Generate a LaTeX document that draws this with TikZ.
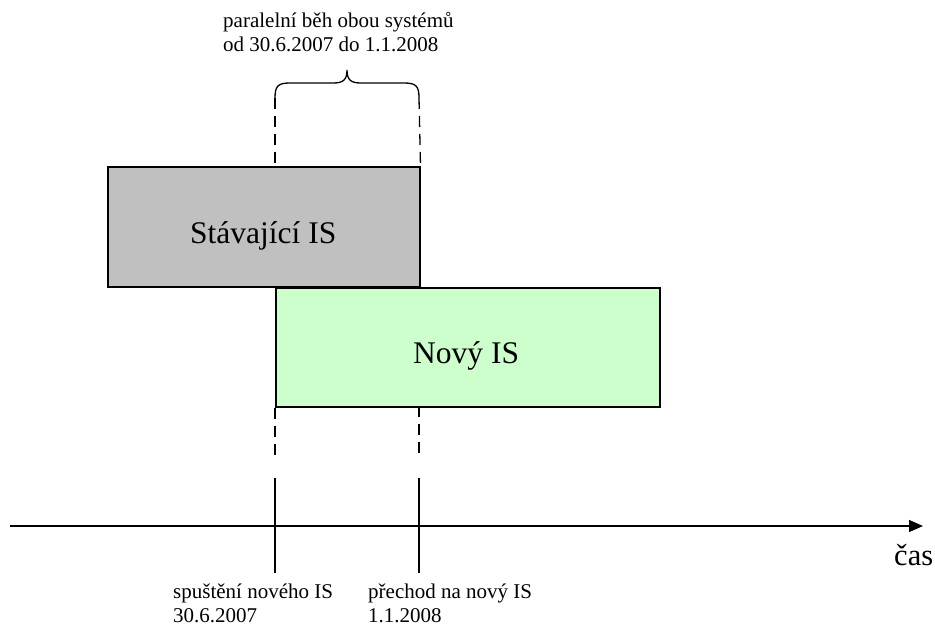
\documentclass[tikz,border=0pt]{standalone}
\usepackage{fontspec}
\setmainfont{Liberation Serif}
\usetikzlibrary{arrows.meta}
\begin{document}
\begin{tikzpicture}[x=1pt,y=-1pt,
  sysbox/.style={draw=black,line width=1.5pt,anchor=north west,inner sep=0pt},
  guide/.style={line width=1.3pt,dash pattern=on 11pt off 7pt},
  tick/.style={line width=1.3pt},
  small/.style={font=\fontsize{21}{24}\selectfont,anchor=base west,inner sep=0pt},
  big/.style={font=\fontsize{31.5}{36}\selectfont,anchor=base west,inner sep=0pt}]
\useasboundingbox (0,0) rectangle (935,630);
% system boxes
\node[sysbox,fill={rgb,255:red,192;green,192;blue,192},minimum width=312pt,minimum height=120pt] (old) at (107,166) {};
\node[sysbox,fill={rgb,255:red,204;green,255;blue,204},minimum width=384pt,minimum height=119pt] (new) at (275,287) {};
\node[big] (oldlbl) at (190,243) {Stávající IS};
\node[big] (newlbl) at (413,363) {Nový IS};
% guide coordinates
\coordinate (b1) at (275,98);
\coordinate (b2) at (419,98);
\coordinate (d1) at (275,455);
\coordinate (d2) at (419,455);
\coordinate (t1a) at (275,478);
\coordinate (t1b) at (275,573);
\coordinate (t2a) at (419,478);
\coordinate (t2b) at (419,573);
% dashed guides
\draw[guide] (b1) -- (275,166);
\draw[guide] (b2) -- (old.north east);
\draw[guide] (new.south west) -- (d1);
\draw[guide] (419,406) -- (d2);
% ticks on the axis
\draw[tick] (t1a) -- (t1b);
\draw[tick] (t2a) -- (t2b);
% time axis
\coordinate (ax0) at (10,526);
\coordinate (ax1) at (923,526);
\draw[line width=1.3pt,-{Triangle[length=14pt,width=12pt]}] (ax0) -- (ax1);
\node[font=\fontsize{30.5}{34}\selectfont,anchor=base west,inner sep=0pt] (cas) at (894,565) {čas};
% brace over the parallel period
\draw[line width=1.3pt] (b1) .. controls (275,86) and (278,83) .. (290,83) -- (333,83) .. controls (343,83) and (347,80) .. (347,70)
  .. controls (347,80) and (351,83) .. (361,83) -- (404,83) .. controls (416,83) and (419,86) .. (b2);
% labels
\node[small] (par1) at (223,27.7) {paralelní běh obou systémů};
\node[small] (par2) at (223,51.7) {od 30.6.2007 do 1.1.2008};
\node[small] (start1) at (173,598) {spuštění nového IS};
\node[small] (start2) at (173,622) {30.6.2007};
\node[small] (switch1) at (368,598) {přechod na nový IS};
\node[small] (switch2) at (368,622) {1.1.2008};
\end{tikzpicture}
\end{document}
